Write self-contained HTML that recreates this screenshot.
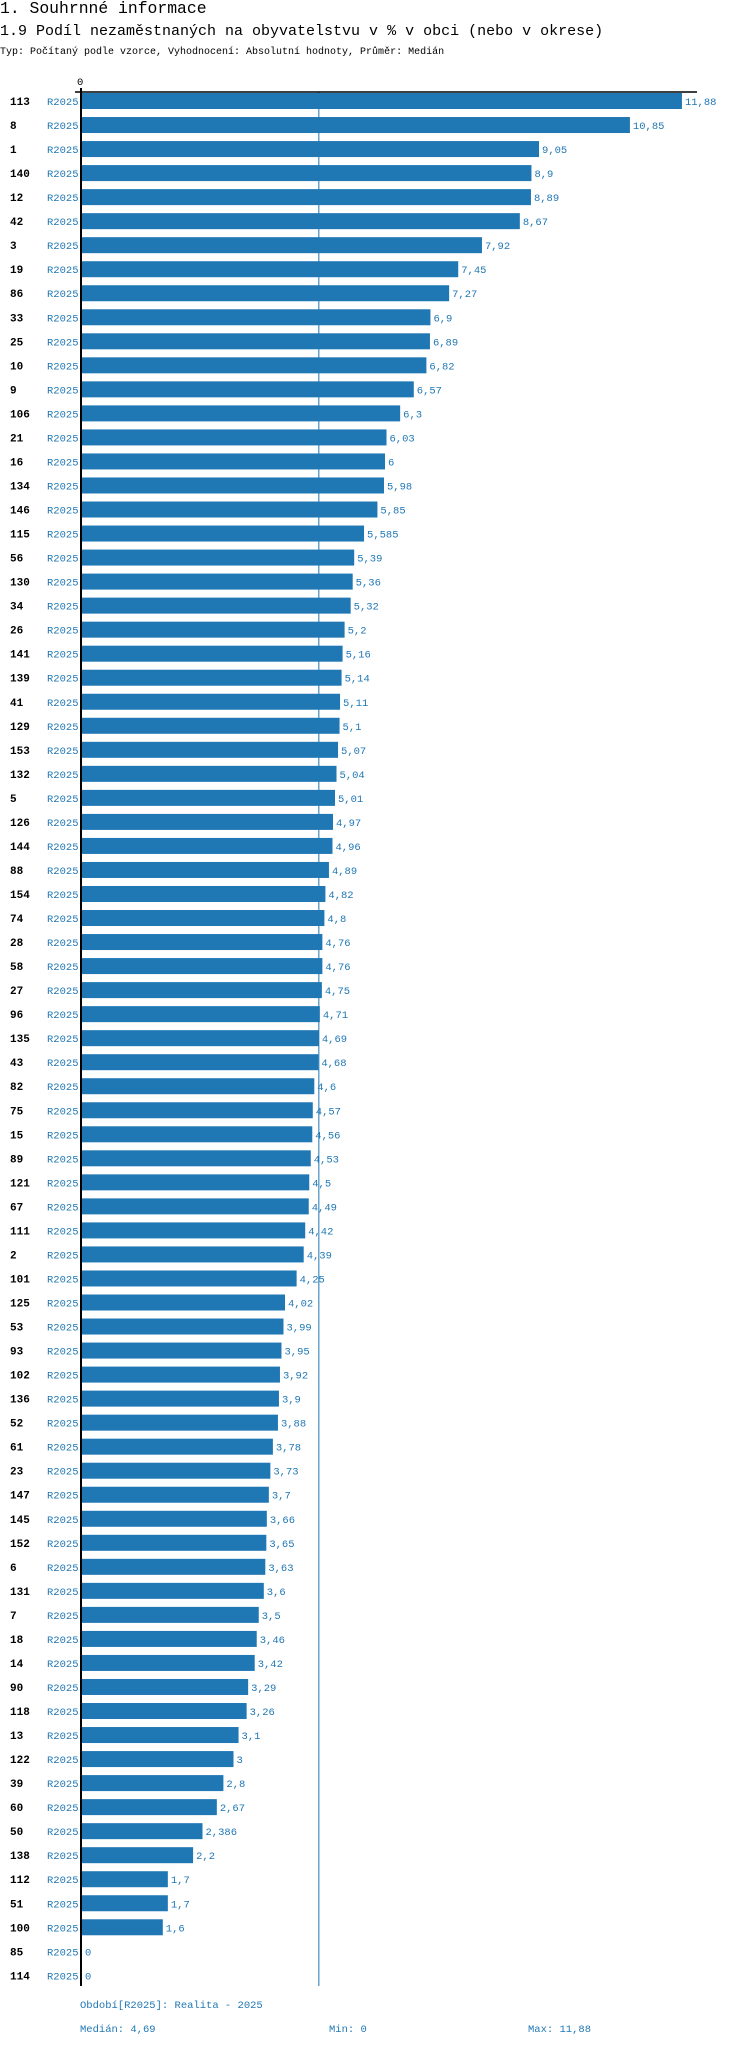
<!DOCTYPE html>
<html><head><meta charset="utf-8"><style>
body{margin:0;background:#fff;width:750px;height:2048px;overflow:hidden;font-family:"Liberation Mono",monospace}
svg text{font-family:"Liberation Mono",monospace}
</style></head><body>
<svg id="chart" width="750" height="2048" xmlns="http://www.w3.org/2000/svg">
<text x="0" y="13" font-size="16.4" fill="#000">1. Souhrnné informace</text>
<text x="0" y="35" font-size="15" fill="#000">1.9 Podíl nezaměstnaných na obyvatelstvu v % v obci (nebo v okrese)</text>
<text x="0" y="54" font-size="10" fill="#000">Typ: Počítaný podle vzorce, Vyhodnocení: Absolutní hodnoty, Průměr: Medián</text>
<g id="marks"></g>
<text x="80" y="2008" font-size="10.5" fill="#1f77b4">Období[R2025]: Realita - 2025</text>
<text x="80" y="2032" font-size="10.5" fill="#1f77b4">Medián: 4,69</text>
<text x="329" y="2032" font-size="10.5" fill="#1f77b4">Min: 0</text>
<text x="528" y="2032" font-size="10.5" fill="#1f77b4">Max: 11,88</text>
</svg>
<script>
const categories=["113","8","1","140","12","42","3","19","86","33","25","10","9","106","21","16","134","146","115","56","130","34","26","141","139","41","129","153","132","5","126","144","88","154","74","28","58","27","96","135","43","82","75","15","89","121","67","111","2","101","125","53","93","102","136","52","61","23","147","145","152","6","131","7","18","14","90","118","13","122","39","60","50","138","112","51","100","85","114"];
const values=[11.88,10.85,9.05,8.9,8.89,8.67,7.92,7.45,7.27,6.9,6.89,6.82,6.57,6.3,6.03,6,5.98,5.85,5.585,5.39,5.36,5.32,5.2,5.16,5.14,5.11,5.1,5.07,5.04,5.01,4.97,4.96,4.89,4.82,4.8,4.76,4.76,4.75,4.71,4.69,4.68,4.6,4.57,4.56,4.53,4.5,4.49,4.42,4.39,4.25,4.02,3.99,3.95,3.92,3.9,3.88,3.78,3.73,3.7,3.66,3.65,3.63,3.6,3.5,3.46,3.42,3.29,3.26,3.1,3,2.8,2.67,2.386,2.2,1.7,1.7,1.6,0,0];
const seriesLabel="R2025";
const medianValue=4.69;
(function(){
const NS="http://www.w3.org/2000/svg";
const g=document.getElementById('marks');
const x0=82, pxPer=50.5, y0=101, step=24.03, axTop=92, axBottom=1986;
const xs=v=>x0+v*pxPer;
const ys=i=>y0+i*step;
function mk(t,a){const e=document.createElementNS(NS,t);for(const k in a)e.setAttribute(k,a[k]);g.appendChild(e);return e;}
let l=mk('line',{x1:xs(medianValue),x2:xs(medianValue),y1:axTop,y2:axBottom,stroke:'#1f77b4','stroke-width':1});


categories.forEach((c,i)=>{
  const y=ys(i);
  let t=mk('text',{x:10,y:y+4,'font-size':11,'font-weight':'bold',fill:'#000'});t.textContent=c;
  
  
  let s=mk('text',{x:47,y:y+4,'font-size':10.5,fill:'#1f77b4'});s.textContent=seriesLabel;
  
  
  const v=values[i];
  if(v>0){let r=mk('rect',{x:x0,y:y-8,width:xs(v)-x0,height:16,fill:'#1f77b4'});
  
  }
  let vt=mk('text',{x:xs(v)+3,y:y+4,'font-size':10.5,fill:'#1f77b4'});vt.textContent=String(v).replace('.',',');
  
  
});
let ax=mk('line',{x1:75,x2:697,y1:92,y2:92,stroke:'#000','stroke-width':1.5});


let ay=mk('line',{x1:81,x2:81,y1:88,y2:axBottom,stroke:'#000','stroke-width':2});


let z=mk('text',{x:77,y:85,'font-size':10.5,fill:'#000'});z.textContent='0';


})();
</script>
</body></html>
